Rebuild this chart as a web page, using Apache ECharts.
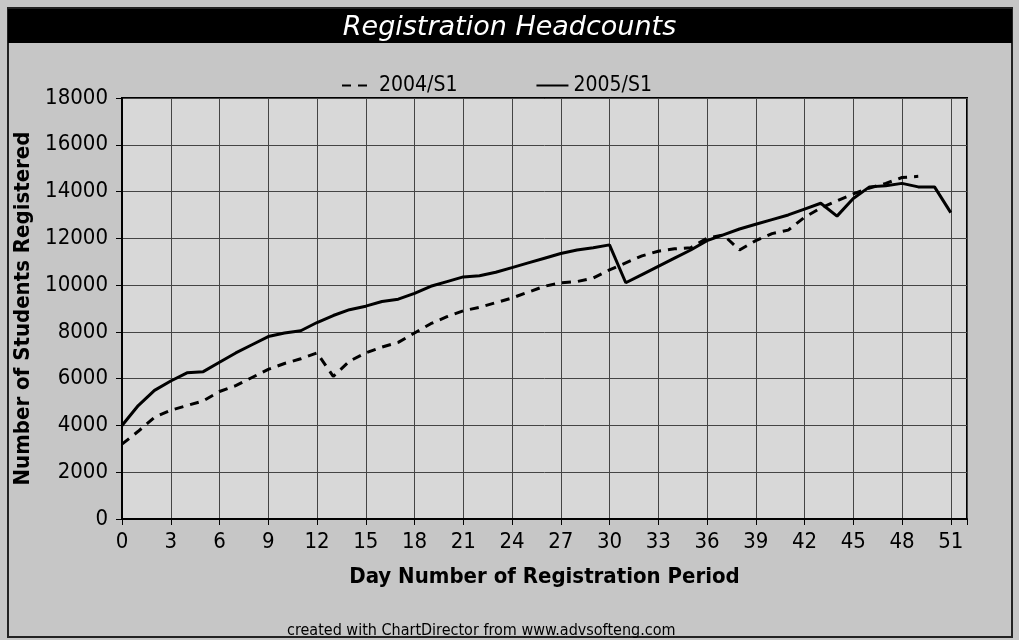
<!DOCTYPE html>
<html>
<head>
<meta charset="utf-8">
<script src="https://cdn.jsdelivr.net/npm/echarts@6/dist/echarts.min.js"></script>
<style>
  html, body { margin: 0; padding: 0; background: #c6c6c6; }
  #chart { width: 1019px; height: 640px; }
</style>
</head>
<body>
<div id="chart"></div>
<script>
// headcounts per registration day (day = index)
var reg2004 = [3200, 3750, 4350, 4650, 4850, 5050, 5450, 5700, 6050, 6400,
               6650, 6850, 7100, 6100, 6750, 7100, 7350, 7550, 7950, 8350,
               8650, 8900, 9050, 9250, 9450, 9700, 9950, 10100, 10150, 10300,
               10650, 10950, 11250, 11450, 11550, 11600, 12000, 12150, 11500, 11900,
               12200, 12350, 12900, 13300, 13600, 13900, 14150, 14350, 14600, 14650];
var reg2005 = [4000, 4850, 5500, 5900, 6250, 6300, 6700, 7100, 7450, 7800,
               7950, 8050, 8400, 8700, 8950, 9100, 9300, 9400, 9650, 9950,
               10150, 10350, 10400, 10550, 10750, 10950, 11150, 11350, 11500, 11600,
               11720, 10100, 10450, 10800, 11150, 11500, 11900, 12150, 12400, 12600,
               12800, 13000, 13250, 13500, 12950, 13700, 14200, 14250, 14350, 14200,
               14200, 13100];
var seriesNames = ['2004/S1', '2005/S1'];

function toPairs(arr) {
  return arr.map(function (v, i) { return [i, v]; });
}

var narrow = "'DejaVu Sans Condensed', 'Liberation Sans Narrow', 'Liberation Sans', sans-serif";

var chart = echarts.init(document.getElementById('chart'));
chart.setOption({
  backgroundColor: '#c6c6c6',
  animation: false,
  graphic: [
    { type: 'rect', shape: { x: 8, y: 8, width: 1004, height: 629 },
      style: { fill: 'none', stroke: '#222', lineWidth: 2 }, z: -1 },
    { type: 'rect', shape: { x: 8, y: 9, width: 1004, height: 34 },
      style: { fill: '#000' }, z: 0 },
    { type: 'text', left: 287, top: 623,
      style: { text: 'created with ChartDirector from www.advsofteng.com',
               font: '16px "DejaVu Sans Condensed", "DejaVu Sans"', fill: '#000' } }
  ],
  title: {
    text: 'Registration Headcounts',
    left: 'center',
    top: 9,
    textStyle: { color: '#fff', fontFamily: 'DejaVu Sans', fontStyle: 'italic',
                 fontWeight: 'normal', fontSize: 27 }
  },
  legend: {
    left: 336,
    top: 70,
    itemWidth: 32,
    itemHeight: 14,
    itemGap: 78,
    itemStyle: { opacity: 0 },
    textStyle: { fontFamily: narrow, fontSize: 21, color: '#000' },
    data: seriesNames
  },
  grid: {
    left: 122, right: 52, top: 98, bottom: 121,
    show: true, backgroundColor: '#d8d8d8', borderColor: '#000', borderWidth: 2
  },
  xAxis: {
    type: 'value',
    min: 0, max: 52, interval: 3,
    name: 'Day Number of Registration Period',
    nameLocation: 'middle',
    nameGap: 47,
    nameTextStyle: { fontFamily: narrow, fontSize: 22, fontWeight: 'bold', color: '#000' },
    axisLine: { lineStyle: { color: '#000', width: 2 } },
    axisTick: { show: true, length: 6, lineStyle: { color: '#000' } },
    axisLabel: {
      margin: 12, color: '#000', fontFamily: narrow, fontSize: 22,
      formatter: function (v) { return v > 51 ? '' : String(v); }
    },
    splitLine: { show: true, lineStyle: { color: '#444', width: 1 } }
  },
  yAxis: {
    type: 'value',
    min: 0, max: 18000, interval: 2000,
    name: 'Number of Students Registered',
    nameLocation: 'middle',
    nameGap: 84,
    nameTextStyle: { fontFamily: narrow, fontSize: 22, fontWeight: 'bold', color: '#000' },
    axisLine: { show: true, lineStyle: { color: '#000', width: 2 } },
    axisTick: { show: true, length: 6, lineStyle: { color: '#000' } },
    axisLabel: {
      margin: 14, color: '#000', fontFamily: narrow, fontSize: 22,
      formatter: function (v) { return String(v); }
    },
    splitLine: { show: true, lineStyle: { color: '#444', width: 1 } }
  },
  series: [
    {
      name: seriesNames[0],
      type: 'line',
      symbol: 'none',
      color: '#000',
      lineStyle: { color: '#000', width: 3, type: [9, 7] },
      data: toPairs(reg2004)
    },
    {
      name: seriesNames[1],
      type: 'line',
      symbol: 'none',
      color: '#000',
      lineStyle: { color: '#000', width: 3 },
      data: toPairs(reg2005)
    }
  ]
});
</script>
</body>
</html>
